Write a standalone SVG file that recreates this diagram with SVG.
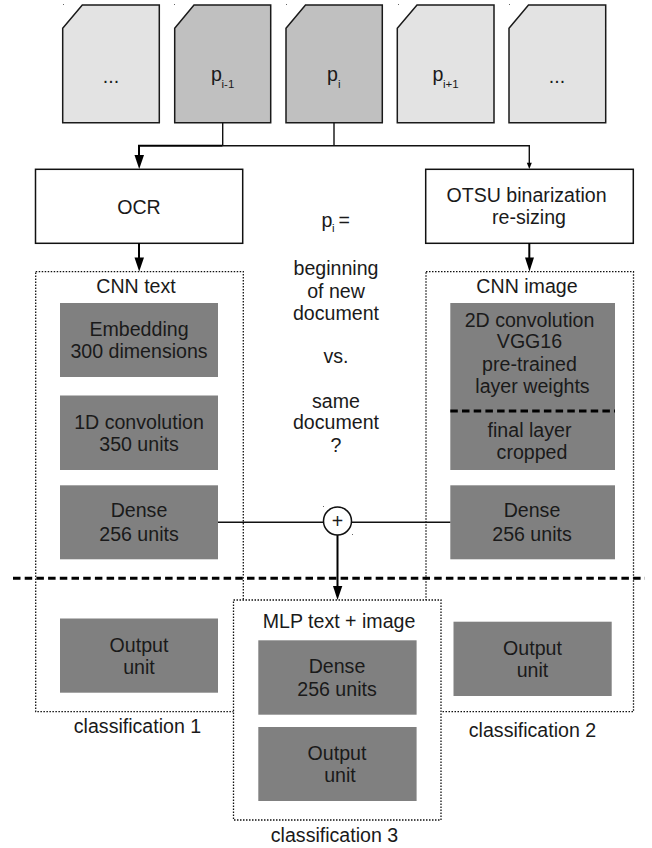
<svg xmlns="http://www.w3.org/2000/svg" width="652" height="848" viewBox="0 0 652 848">
<style>
text{font-family:"Liberation Sans",Arial,sans-serif;font-size:19.600px;fill:#1a1a1a;text-anchor:middle}
.page{stroke:#1a1a1a;stroke-width:1.5}
.light{fill:#e3e3e3}
.dark{fill:#c0c0c0}
.proc{fill:#fff;stroke:#111;stroke-width:1.5}
.group{fill:#fff;stroke:#111;stroke-width:1.3;stroke-dasharray:1.5 1.5}
.gray{fill:#808080}
.line{fill:none;stroke:#111;stroke-width:1.4}
.thick{fill:none;stroke:#000;stroke-width:2}
.sep{fill:none;stroke:#000;stroke-width:3;stroke-dasharray:7.500 4.200}
.p{text-anchor:start}
.sub{font-size:11.500px;text-anchor:start}
.dot{fill:#666}
</style>
<g id="page-1"><path class="page light" d="M62.700 28.300L82.300 5H159.300V122.700H62.700Z"/><text x="111" y="83">...</text></g>
<g id="page-2"><path class="page dark" d="M174.700 28.300L194 5H270.700V122.700H174.700Z"/><text class="p" x="211" y="81">p</text><text class="sub" x="221.500" y="87.500">i-1</text></g>
<g id="page-3"><path class="page dark" d="M286 28.300L305.500 5H382.300V122.700H286Z"/><text class="p" x="327" y="81">p</text><text class="sub" x="338" y="87.500">i</text></g>
<g id="page-4"><path class="page light" d="M397.300 28.300L417 5H494V122.700H397.300Z"/><text class="p" x="432.500" y="81">p</text><text class="sub" x="443" y="87.500">i+1</text></g>
<g id="page-5"><path class="page light" d="M509 28.300L528.500 5H605.700V122.700H509Z"/><text x="557" y="83">...</text></g>
<g id="corner-dots"><rect class="dot" x="63" y="4" width="1" height="1"/><rect class="dot" x="174" y="4" width="1" height="1"/><rect class="dot" x="286" y="4" width="1" height="1"/><rect class="dot" x="398" y="4" width="1" height="1"/><rect class="dot" x="509" y="4" width="1" height="1"/><rect class="dot" x="323" y="506" width="1" height="1"/><rect class="dot" x="352" y="534" width="1" height="1"/></g>
<g id="ocr"><rect class="proc" x="35.500" y="169.300" width="207.200" height="74"/><text x="139" y="214">OCR</text></g>
<g id="otsu"><rect class="proc" x="425.700" y="169.300" width="207.600" height="74"/><text x="526.500" y="202">OTSU binarization</text><text x="529" y="223.500">re-sizing</text></g>
<g id="question"><text class="p" x="321.500" y="227">p</text><text class="sub" x="332" y="232">i</text><text class="p" x="338.500" y="227">=</text><text x="336" y="275">beginning</text><text x="336" y="298">of new</text><text x="336" y="320">document</text><text x="336" y="363">vs.</text><text x="336" y="408">same</text><text x="336" y="429">document</text><text x="336" y="452">?</text></g>
<g id="cnn-text"><rect class="group" x="35.700" y="271.700" width="207.600" height="440"/><text x="136" y="293">CNN text</text></g>
<g id="cnn-image"><rect class="group" x="426" y="271.700" width="207.500" height="440"/><text x="527" y="293">CNN image</text></g>
<g id="embedding"><rect class="gray" x="60" y="303" width="158" height="74"/><text x="139" y="336">Embedding</text><text x="139" y="358">300 dimensions</text></g>
<g id="conv1d"><rect class="gray" x="60" y="395.500" width="158" height="74.500"/><text x="139" y="429">1D convolution</text><text x="139" y="451">350 units</text></g>
<g id="dense-text"><rect class="gray" x="60" y="485.300" width="158" height="74"/><text x="139" y="517">Dense</text><text x="139" y="540.500">256 units</text></g>
<g id="output-text"><rect class="gray" x="60" y="618.500" width="158" height="74.200"/><text x="139" y="652">Output</text><text x="139" y="674">unit</text></g>
<g id="vgg"><rect class="gray" x="450.300" y="303" width="164.700" height="167"/><text x="529.500" y="327">2D convolution</text><text x="529.500" y="348">VGG16</text><text x="529.500" y="371">pre-trained</text><text x="532.500" y="393">layer weights</text><text x="529.500" y="437">final layer</text><text x="532" y="459">cropped</text></g>
<g id="dense-image"><rect class="gray" x="450.300" y="485.300" width="164.700" height="74"/><text x="532" y="517">Dense</text><text x="532" y="540.500">256 units</text></g>
<g id="output-image"><rect class="gray" x="453.500" y="621.700" width="158.200" height="74.300"/><text x="532.500" y="655">Output</text><text x="532.500" y="677">unit</text></g>
<g id="mlp"><rect class="group" x="233.500" y="600" width="207.500" height="220"/><text x="339" y="628">MLP text + image</text></g>
<g id="dense-mlp"><rect class="gray" x="258.300" y="640.300" width="158.300" height="74.400"/><text x="337" y="673">Dense</text><text x="337" y="695.500">256 units</text></g>
<g id="output-mlp"><rect class="gray" x="258.300" y="727" width="158.300" height="74"/><text x="337" y="760">Output</text><text x="340" y="782">unit</text></g>
<g id="labels"><text x="137.500" y="733">classification 1</text><text x="532.500" y="737">classification 2</text><text x="334.500" y="842">classification 3</text></g>
<g id="connectors">
<path class="line" d="M222.700 122.700V145.700M334 122.700V145.700"/>
<path class="thick" d="M222.700 145.700H139V158"/>
<path class="line" d="M222.700 145.700H529.300V164"/>
<path d="M134.500 155H144L139.200 169Z" fill="#000"/>
<path d="M526.800 162.700H531.800L529.300 169Z" fill="#000"/>
<path class="thick" d="M139 243V260"/>
<path d="M134.500 257.500H144L139.200 271.500Z" fill="#000"/>
<path class="thick" d="M529.300 243V260"/>
<path d="M525 257.500H534L529.500 271.500Z" fill="#000"/>
<path class="line" d="M218 522.300H323.500M351.500 522.300H450.300"/>
<path class="thick" d="M337.500 535V590"/>
<path d="M333 586H342.300L337.500 600Z" fill="#000"/>
<path class="sep" d="M13 578.300H645"/>
<path class="sep" d="M450.300 411H615"/>
</g>
<g id="sum"><circle cx="337.500" cy="521" r="14" fill="#fff" stroke="#111" stroke-width="1.500"/><text x="337.500" y="527.500">+</text></g>
</svg>
